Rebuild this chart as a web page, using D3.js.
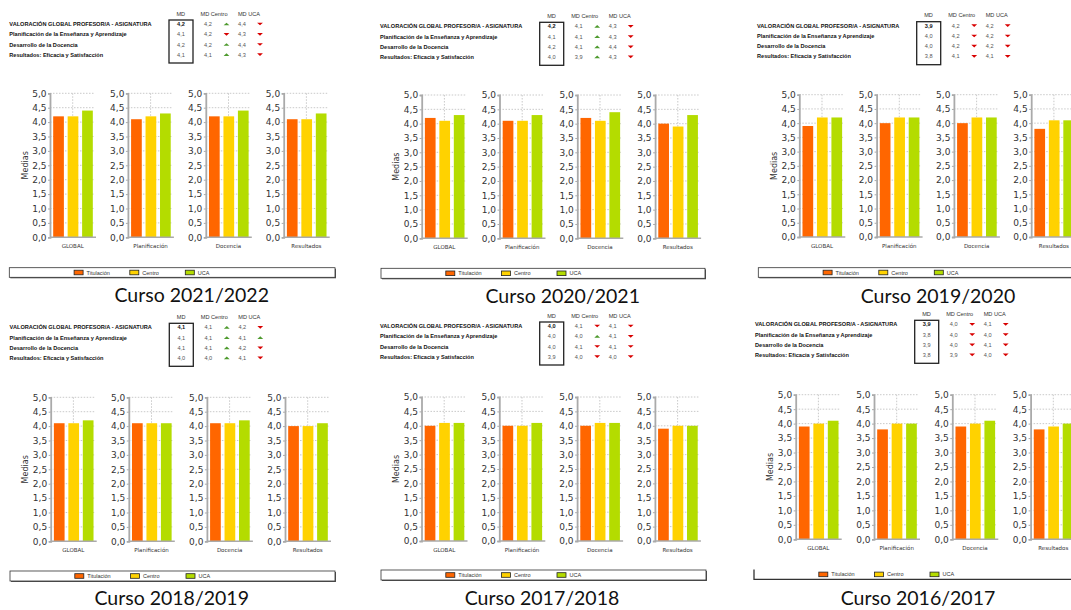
<!DOCTYPE html>
<html><head><meta charset="utf-8">
<script src="https://cdn.jsdelivr.net/npm/d3@7"></script>
<style>body{margin:0;background:#fff}svg{display:block}</style>
</head><body><svg id="c" width="1071" height="610"></svg>
<script>
// ---------- DATA ----------
const courses = ["2021/2022","2020/2021","2019/2020","2018/2019","2017/2018","2016/2017"];
const categories = ["GLOBAL","Planificación","Docencia","Resultados"];
const rowLabels = ["VALORACIÓN GLOBAL PROFESOR/A - ASIGNATURA","Planificación de la Enseñanza y Aprendizaje","Desarrollo de la Docencia","Resultados: Eficacia y Satisfacción"];
const seriesNames = ["Titulación","Centro","UCA"];
const headers = ["MD","MD Centro","MD UCA"];
const yTicks = [0,0.5,1,1.5,2,2.5,3,3.5,4,4.5,5];
const mdTitulacion = [[4.2,4.1,4.2,4.1],[4.2,4.1,4.2,4.0],[3.9,4.0,4.0,3.8],[4.1,4.1,4.1,4.0],[4.0,4.0,4.0,3.9],[3.9,3.8,3.9,3.8]];
const mdCentro     = [[4.2,4.2,4.2,4.1],[4.1,4.1,4.1,3.9],[4.2,4.2,4.2,4.1],[4.1,4.1,4.1,4.0],[4.1,4.0,4.1,4.0],[4.0,4.0,4.0,3.9]];
const mdUCA        = [[4.4,4.3,4.4,4.3],[4.3,4.3,4.4,4.3],[4.2,4.2,4.2,4.1],[4.2,4.1,4.2,4.1],[4.1,4.1,4.1,4.0],[4.1,4.0,4.1,4.0]];
const trendCentro  = [["u","d","u","u"],["u","u","u","u"],["d","d","d","d"],["u","u","u","u"],["d","u","d","d"],["d","d","d","d"]];
const trendUCA     = [["d","d","d","d"],["d","d","d","d"],["d","d","d","d"],["d","u","d","d"],["d","d","d","d"],["d","d","d","d"]];

// ---------- LAYOUT ----------
const colors = ["#FF6600","#FFD200","#B4DC00"];
const layout = [
  {table:[169,20],    chart:[50,93.3,237.3,77.9],   legend:[9.3,267.7,325.7,9.6,true],  title:[191.7,301.7]},
  {table:[539.7,22.3],chart:[421.7,95,238.3,77.8],  legend:[381,268.3,324,10,true],     title:[562.7,302.7]},
  {table:[916.7,21.7],chart:[799.3,94.7,237,77.3],  legend:[758.3,267.7,400,9.6,true],  title:[938,302.7]},
  {table:[169.3,323.3],chart:[50.7,397.3,541.3,78.1],legend:[10,571,325,10,true],       title:[171.7,605]},
  {table:[539.7,322], chart:[421.5,397,541,77.8],   legend:[381,570,325,10,true],       title:[542,605]},
  {table:[914.7,320.3],chart:[795.7,394.7,539.3,78.3],legend:[754,569.5,400,9.8,false], title:[918,605]}
];
const fmt = v => d3.format(".1f")(v).replace(".", ",");
const svg = d3.select("#c");

function arrow(g, x, y, dir){
  const w = 2.9, h = 2.7;
  const pts = dir === "u"
    ? [[x-w,y+h/2],[x+w,y+h/2],[x,y-h/2]]
    : [[x-w,y-h/2],[x+w,y-h/2],[x,y+h/2]];
  g.append("path").attr("d", d3.line()(pts) + "Z")
    .attr("fill", dir === "u" ? "#4E9A2E" : "#D80000");
}

layout.forEach((L, i) => {
  const g = svg.append("g");

  // ---- table ----
  const t = g.append("g").attr("transform", `translate(${L.table[0]},${L.table[1]})`);
  const rowY = [4, 14.3, 24.5, 34.6];
  const hx = [11.8, 45, 80];
  headers.forEach((h, k) => t.append("text").attr("x", hx[k]).attr("y", -6.3)
    .attr("text-anchor","middle").attr("dominant-baseline","central")
    .attr("font-family","Liberation Sans, Arial").attr("font-size",5.6).attr("fill","#333").text(h));
  t.append("rect").attr("x",0).attr("y",0).attr("width",24).attr("height",43)
    .attr("fill","none").attr("stroke","#222").attr("stroke-width",1.3);
  rowLabels.forEach((lab, r) => {
    const y = rowY[r];
    t.append("text").attr("x",-159.7).attr("y",y).attr("dominant-baseline","central")
      .attr("font-family","Liberation Sans, Arial").attr("font-weight","bold")
      .attr("font-size",5.6).attr("fill","#111").text(lab);
    t.append("text").attr("x",12).attr("y",y).attr("text-anchor","middle").attr("dominant-baseline","central")
      .attr("font-family","Liberation Sans, Arial").attr("font-size",5.6)
      .attr("font-weight", r === 0 ? "bold" : "normal").attr("fill", r === 0 ? "#111" : "#555")
      .text(fmt(mdTitulacion[i][r]));
    t.append("text").attr("x",39).attr("y",y).attr("text-anchor","middle").attr("dominant-baseline","central")
      .attr("font-family","Liberation Sans, Arial").attr("font-size",5.6).attr("fill","#555")
      .text(fmt(mdCentro[i][r]));
    arrow(t, 57.5, y, trendCentro[i][r]);
    t.append("text").attr("x",73).attr("y",y).attr("text-anchor","middle").attr("dominant-baseline","central")
      .attr("font-family","Liberation Sans, Arial").attr("font-size",5.6).attr("fill","#555")
      .text(fmt(mdUCA[i][r]));
    arrow(t, 91, y, trendUCA[i][r]);
  });

  // ---- charts ----
  const [ax, top, bottom, step] = L.chart;
  const y = d3.scaleLinear().domain([0,5]).range([bottom, top]);
  const x = d3.scaleBand().domain(seriesNames).range([0,46]).paddingInner(0.26).paddingOuter(0.22);
  categories.forEach((cat, c) => {
    const gc = g.append("g").attr("transform", `translate(${ax + c*step},0)`);
    gc.selectAll("line.grid").data(yTicks.filter(v => v > 0)).join("line").attr("class","grid")
      .attr("x1",0).attr("x2",44).attr("y1",d=>y(d)).attr("y2",d=>y(d))
      .attr("stroke","#BBB").attr("stroke-width",0.8).attr("stroke-dasharray","1.5,1.5");
    gc.append("line").attr("x1",22.7).attr("x2",22.7).attr("y1",y(5)).attr("y2",y(0))
      .attr("stroke","#BBB").attr("stroke-width",0.8).attr("stroke-dasharray","1.5,1.5");
    const vals = [mdTitulacion[i][c], mdCentro[i][c], mdUCA[i][c]];
    gc.selectAll("rect.bar").data(vals).join("rect").attr("class","bar")
      .attr("x",(d,k)=>x(seriesNames[k])).attr("width",x.bandwidth())
      .attr("y",d=>y(d)).attr("height",d=>y(0)-y(d))
      .attr("fill",(d,k)=>colors[k]);
    const axis = gc.append("g").call(d3.axisLeft(y).tickValues(yTicks).tickFormat(fmt).tickSize(2).tickPadding(1.5));
    axis.select(".domain").attr("stroke","#AAA").attr("stroke-width",1.8);
    axis.selectAll(".tick line").attr("stroke","#AAA");
    axis.selectAll("text").attr("font-family","DejaVu Sans, Verdana").attr("font-size",9).attr("fill","#333");
    gc.append("line").attr("x1",0).attr("x2",46).attr("y1",y(0)).attr("y2",y(0))
      .attr("stroke","#AAA").attr("stroke-width",1.5);
    gc.append("text").attr("x",22.7).attr("y",bottom+10.5).attr("text-anchor","middle")
      .attr("font-family","DejaVu Sans, Verdana").attr("font-size",5.5).attr("fill","#333").text(cat);
  });
  g.append("text").attr("transform",`translate(${ax-25},${(top+bottom)/2}) rotate(-90)`)
    .attr("text-anchor","middle").attr("dominant-baseline","central")
    .attr("font-family","DejaVu Sans, Verdana").attr("font-size",8).attr("fill","#333").text("Medias");

  // ---- legend ----
  const [lx, ly, lw, lh, hasTop] = L.legend;
  const lg = g.append("g");
  if (hasTop) {
    lg.append("rect").attr("x",lx+1).attr("y",ly+1).attr("width",lw).attr("height",lh).attr("fill","#555");
    lg.append("rect").attr("x",lx).attr("y",ly).attr("width",lw).attr("height",lh)
      .attr("fill","#fff").attr("stroke","#333").attr("stroke-width",0.8);
  } else {
    lg.append("path").attr("d",`M${lx},${ly}V${ly+lh}H${lx+lw}`).attr("fill","none")
      .attr("stroke","#333").attr("stroke-width",1.3);
  }
  const lOff = [64.8, 120.5, 176];
  seriesNames.forEach((s, k) => {
    lg.append("rect").attr("x",lx+lOff[k]).attr("y",ly+lh/2-2.3).attr("width",9).attr("height",4.6)
      .attr("fill",colors[k]).attr("stroke","#222").attr("stroke-width",0.8);
    lg.append("text").attr("x",lx+lOff[k]+12.5).attr("y",ly+lh/2).attr("dominant-baseline","central")
      .attr("font-family","Liberation Sans, Arial").attr("font-size",5.5).attr("fill","#333").text(s);
  });

  // ---- title ----
  g.append("text").attr("x",L.title[0]).attr("y",L.title[1]).attr("text-anchor","middle")
    .attr("font-family","Lato, Open Sans, sans-serif").attr("font-size",19.5).attr("fill","#111")
    .text("Curso " + courses[i]);
});
</script></body></html>
